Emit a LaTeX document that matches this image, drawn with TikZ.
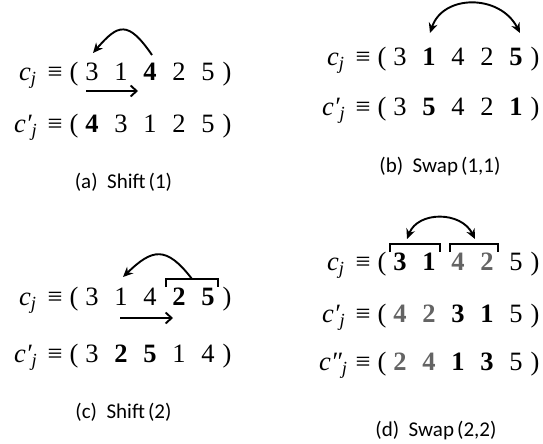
\documentclass[tikz,border=0pt]{standalone}
\usepackage{fontspec}
\setmainfont{Liberation Serif}
\newfontfamily\serf{Liberation Serif}
\newfontfamily\capfont{Carlito}
\usetikzlibrary{arrows.meta,calc}
\definecolor{dgray}{RGB}{100,100,100}
\newcommand\gb[1]{\textcolor{dgray}{\textbf{#1}}}
\newcommand\subj{\raisebox{-4.5pt}{\fontsize{18.5}{18.5}\selectfont\itshape j}}
\tikzset{
  txt/.style={inner sep=0pt, outer sep=0pt, font=\serf\fontsize{26.5}{30}\selectfont},
  dig/.style={txt, anchor=base},
  captxt/.style={inner sep=0pt, font=\capfont\fontsize{21}{25}\selectfont},
  curv/.style={line width=1.9pt, -{Stealth[length=10pt,width=9pt]}},
  curvb/.style={line width=1.9pt, {Stealth[length=10pt,width=9pt]}-{Stealth[length=10pt,width=9pt]}},
  sarr/.style={line width=1.9pt, -{Straight Barb[length=6pt,width=11pt]}},
  brk/.style={line width=1.9pt, line join=miter},
}
% #1 name, #2 x offset, #3 baseline, #4 x of c, #5 prefix, #6 digits
\newcommand\seqrow[6]{%
  \node[txt,anchor=base west] (#1c) at (#4,#3) {#5};
  \node[dig] (#1eq) at ({#2+55},#3) {≡};
  \node[dig] (#1lp) at ({#2+74},#3) {(};
  \foreach \t [count=\i] in {#6} {
    \node[dig] (#1d\i) at ({#2+92+(\i-1)*29},#3) {\t};
  }
  \node[dig] (#1rp) at ({#2+227},#3) {)};
}
\begin{document}
\begin{tikzpicture}[x=1pt,y=-1pt]
\useasboundingbox (0,0) rectangle (543,444);
% (a)
\seqrow{a1}{0}{80}{19}{{\itshape c}\subj}{3,1,\textbf{4},2,5}
\seqrow{a2}{0}{132}{14}{{\itshape c′}\subj}{\textbf{4},3,1,2,5}
\draw[curv] ($(a1d3.base)+(2,-25)$) .. controls +(-24,-35) and +(25,-29) .. ($(a1d1.base)+(1,-27)$);
\draw[sarr] ($(a1d1.base)+(-6,11)$) -- ($(a1d2.base)+(17,11)$);
\node[captxt] (capa) at (123.5,182) {(a)\ \ Shift\hspace{.15em}(1)};
% (b)
\seqrow{b1}{308}{65}{327}{{\itshape c}\subj}{3,\textbf{1},4,2,\textbf{5}}
\seqrow{b2}{308}{115}{322}{{\itshape c′}\subj}{3,\textbf{5},4,2,\textbf{1}}
\draw[curvb] ($(b1d2.base)+(1,-32)$) .. controls +(13,-39) and +(-20,-39) .. ($(b1d5.base)+(4,-32)$);
\node[captxt] (capb) at (440,167) {(b)\ \ Swap\hspace{.15em}(1,1)};
% (c)
\seqrow{c1}{0}{305}{19}{{\itshape c}\subj}{3,1,4,\textbf{2},\textbf{5}}
\seqrow{c2}{0}{362}{14}{{\itshape c′}\subj}{3,\textbf{2},\textbf{5},1,4}
\draw[brk] ($(c1d4.base)+(-13,-18)$) |- ($(c1d5.base)+(10,-26)$) -- ++(0,8);
\draw[curv] ($(c1d4.base)+(13,-26)$) .. controls +(-26,-34) and +(29,-28) .. ($(c1d2.base)+(2,-28)$);
\draw[sarr] ($(c1d2.base)+(-1,13)$) -- ($(c1d3.base)+(23,13)$);
\node[captxt] (capc) at (123.5,412) {(c)\ \ Shift\hspace{.15em}(2)};
% (d)
\seqrow{d1}{308}{270}{327}{{\itshape c}\subj}{\textbf{3},\textbf{1},\gb{4},\gb{2},5}
\seqrow{d2}{308}{322}{322}{{\itshape c′}\subj}{\gb{4},\gb{2},\textbf{3},\textbf{1},5}
\seqrow{d3}{308}{370}{319}{{\itshape c″}\subj}{\gb{2},\gb{4},\textbf{1},\textbf{3},5}
\draw[brk] ($(d1d1.base)+(-10,-18)$) |- ($(d1d2.base)+(11,-26)$) -- ++(0,8);
\draw[brk] ($(d1d3.base)+(-8,-18)$) |- ($(d1d4.base)+(11,-26)$) -- ++(0,8);
\draw[curvb] ($(d1d1.base)+(7,-31)$) .. controls +(11,-28) and +(-14,-28) .. ($(d1d4.base)+(-12,-31)$);
\node[captxt] (capd) at (436,431) {(d)\ \ Swap\hspace{.15em}(2,2)};
\end{tikzpicture}
\end{document}
